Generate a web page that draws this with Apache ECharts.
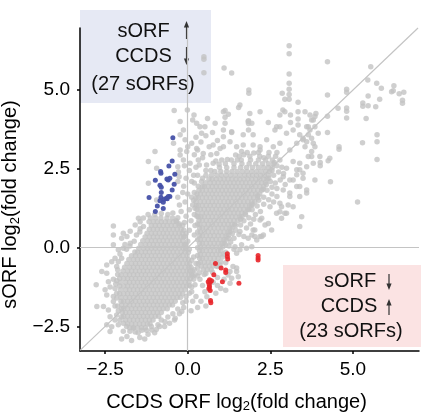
<!DOCTYPE html>
<html>
<head>
<meta charset="utf-8">
<script src="https://cdn.jsdelivr.net/npm/echarts@6/dist/echarts.min.js"></script>
<style>
  html, body { margin: 0; padding: 0; background: #fff; }
  #chart { width: 421px; height: 418px; }
</style>
</head>
<body>
<div id="chart"></div>
<script>
// axis ranges and ticks
const xRange = [-3.26, 7.0]
const yRange = [-3.28, 6.97]
const xTicks = [-2.5, 0, 2.5, 5]
const yTicks = [-2.5, 0, 2.5, 5]

// dense lower-left cloud, one row per sORF value: [y, [CCDS values]]
const lowerCoreRows = [
  [0.94, [-1.34, -1.13, -0.97, -0.81, -0.63, -0.46]],
  [0.82, [-1.17, -1.04, -0.92, -0.80, -0.68, -0.56, -0.44, -0.33]],
  [0.70, [-1.10, -0.98, -0.86, -0.74, -0.62, -0.50, -0.38, -0.26]],
  [0.58, [-1.16, -1.04, -0.92, -0.80, -0.68, -0.56, -0.44, -0.32, -0.20]],
  [0.46, [-1.23, -1.10, -0.98, -0.86, -0.74, -0.62, -0.50, -0.38, -0.26, -0.16]],
  [0.34, [-1.29, -1.16, -1.04, -0.92, -0.80, -0.68, -0.56, -0.44, -0.32, -0.20, -0.12]],
  [0.22, [-1.36, -1.22, -1.10, -0.98, -0.86, -0.74, -0.62, -0.50, -0.38, -0.26, -0.15]],
  [0.10, [-1.42, -1.28, -1.16, -1.04, -0.92, -0.80, -0.68, -0.56, -0.44, -0.32, -0.20, -0.10]],
  [-0.02, [-1.48, -1.34, -1.22, -1.10, -0.98, -0.86, -0.74, -0.62, -0.50, -0.38, -0.26, -0.14, -0.06]],
  [-0.14, [-1.60, -1.52, -1.40, -1.28, -1.16, -1.04, -0.92, -0.80, -0.68, -0.56, -0.44, -0.32, -0.20, -0.08]],
  [-0.26, [-1.70, -1.58, -1.46, -1.34, -1.22, -1.10, -0.98, -0.86, -0.74, -0.62, -0.50, -0.38, -0.26, -0.14, -0.02]],
  [-0.38, [-1.78, -1.64, -1.52, -1.40, -1.28, -1.16, -1.04, -0.92, -0.80, -0.68, -0.56, -0.44, -0.32, -0.20, -0.08, 0.02]],
  [-0.50, [-1.84, -1.70, -1.58, -1.46, -1.34, -1.22, -1.10, -0.98, -0.86, -0.74, -0.62, -0.50, -0.38, -0.26, -0.14, -0.02, 0.06]],
  [-0.62, [-1.91, -1.76, -1.64, -1.52, -1.40, -1.28, -1.16, -1.04, -0.92, -0.80, -0.68, -0.56, -0.44, -0.32, -0.20, -0.08, 0.04, 0.10]],
  [-0.74, [-1.96, -1.82, -1.70, -1.58, -1.46, -1.34, -1.22, -1.10, -0.98, -0.86, -0.74, -0.62, -0.50, -0.38, -0.26, -0.14, -0.02, 0.08, 0.14]],
  [-0.86, [-2.02, -1.88, -1.76, -1.64, -1.52, -1.40, -1.28, -1.16, -1.04, -0.92, -0.80, -0.68, -0.56, -0.44, -0.32, -0.20, -0.08, 0.04, 0.12]],
  [-0.98, [-2.06, -1.94, -1.82, -1.70, -1.58, -1.46, -1.34, -1.22, -1.10, -0.98, -0.86, -0.74, -0.62, -0.50, -0.38, -0.26, -0.14, -0.02, 0.09]],
  [-1.10, [-2.04, -1.88, -1.76, -1.64, -1.52, -1.40, -1.28, -1.16, -1.04, -0.92, -0.80, -0.68, -0.56, -0.44, -0.32, -0.20, -0.08, 0.04]],
  [-1.22, [-2.06, -1.94, -1.82, -1.70, -1.58, -1.46, -1.34, -1.22, -1.10, -0.98, -0.86, -0.74, -0.62, -0.50, -0.38, -0.26, -0.14, -0.03]],
  [-1.34, [-2.03, -1.88, -1.76, -1.64, -1.52, -1.40, -1.28, -1.16, -1.04, -0.92, -0.80, -0.68, -0.56, -0.44, -0.32, -0.20, -0.08]],
  [-1.46, [-2.06, -1.94, -1.82, -1.70, -1.58, -1.46, -1.34, -1.22, -1.10, -0.98, -0.86, -0.74, -0.62, -0.50, -0.38, -0.26, -0.15]],
  [-1.58, [-2.02, -1.88, -1.76, -1.64, -1.52, -1.40, -1.28, -1.16, -1.04, -0.92, -0.80, -0.68, -0.56, -0.44, -0.32, -0.22]],
  [-1.70, [-2.02, -1.94, -1.82, -1.70, -1.58, -1.46, -1.34, -1.22, -1.10, -0.98, -0.86, -0.74, -0.62, -0.50, -0.38]],
  [-1.82, [-2.00, -1.88, -1.76, -1.64, -1.52, -1.40, -1.28, -1.16, -1.04, -0.92, -0.80, -0.68, -0.56, -0.46]],
  [-1.94, [-2.00, -1.94, -1.82, -1.70, -1.58, -1.46, -1.34, -1.22, -1.10, -0.98, -0.86, -0.74, -0.62]],
  [-2.06, [-1.98, -1.88, -1.76, -1.64, -1.52, -1.40, -1.28, -1.16, -1.04, -0.92, -0.80]],
  [-2.18, [-1.94, -1.82, -1.70, -1.58, -1.46, -1.34, -1.22, -1.10, -0.98, -0.88]],
  [-2.30, [-1.88, -1.76, -1.64, -1.52, -1.40, -1.28, -1.16, -1.05]],
  [-2.42, [-1.82, -1.70, -1.58, -1.46, -1.34, -1.22, -1.14]],
  [-2.54, [-1.76, -1.64, -1.52, -1.40, -1.28]]
]

// dense upper-right cloud: [y, [CCDS values]]
const upperCoreRows = [
  [-0.70, [0.47, 0.59, 0.71]],
  [-0.58, [0.41, 0.53, 0.65, 0.77, 0.87]],
  [-0.46, [0.38, 0.50, 0.62, 0.74, 0.86]],
  [-0.34, [0.36, 0.44, 0.56, 0.68, 0.80, 0.92]],
  [-0.22, [0.38, 0.50, 0.62, 0.74, 0.86, 0.98]],
  [-0.10, [0.36, 0.44, 0.56, 0.68, 0.80, 0.92, 1.00]],
  [0.02, [0.38, 0.50, 0.62, 0.74, 0.86, 0.98, 1.06]],
  [0.14, [0.36, 0.44, 0.56, 0.68, 0.80, 0.92, 1.04, 1.10]],
  [0.26, [0.38, 0.50, 0.62, 0.74, 0.86, 0.98, 1.10, 1.16]],
  [0.38, [0.36, 0.44, 0.56, 0.68, 0.80, 0.92, 1.04, 1.16, 1.22]],
  [0.50, [0.38, 0.50, 0.62, 0.74, 0.86, 0.98, 1.10, 1.22, 1.28]],
  [0.62, [0.36, 0.44, 0.56, 0.68, 0.80, 0.92, 1.04, 1.16, 1.28, 1.34]],
  [0.74, [0.36, 0.50, 0.62, 0.74, 0.86, 0.98, 1.10, 1.22, 1.34, 1.42]],
  [0.86, [0.34, 0.44, 0.56, 0.68, 0.80, 0.92, 1.04, 1.16, 1.28, 1.40, 1.52]],
  [0.98, [0.32, 0.40, 0.50, 0.62, 0.74, 0.86, 0.98, 1.10, 1.22, 1.34, 1.46, 1.58, 1.64]],
  [1.10, [0.30, 0.44, 0.56, 0.68, 0.80, 0.92, 1.04, 1.16, 1.28, 1.40, 1.52, 1.64, 1.74]],
  [1.22, [0.28, 0.38, 0.50, 0.62, 0.74, 0.86, 0.98, 1.10, 1.22, 1.34, 1.46, 1.58, 1.70, 1.82]],
  [1.34, [0.26, 0.32, 0.44, 0.56, 0.68, 0.80, 0.92, 1.04, 1.16, 1.28, 1.40, 1.52, 1.64, 1.76, 1.88, 1.94]],
  [1.46, [0.25, 0.38, 0.50, 0.62, 0.74, 0.86, 0.98, 1.10, 1.22, 1.34, 1.46, 1.58, 1.70, 1.82, 1.94, 2.03]],
  [1.58, [0.25, 0.32, 0.44, 0.56, 0.68, 0.80, 0.92, 1.04, 1.16, 1.28, 1.40, 1.52, 1.64, 1.76, 1.88, 2.00, 2.12]],
  [1.70, [0.28, 0.38, 0.50, 0.62, 0.74, 0.86, 0.98, 1.10, 1.22, 1.34, 1.46, 1.58, 1.70, 1.82, 1.94, 2.06, 2.18]],
  [1.82, [0.34, 0.44, 0.56, 0.68, 0.80, 0.92, 1.04, 1.16, 1.28, 1.40, 1.52, 1.64, 1.76, 1.88, 2.00, 2.12, 2.24]],
  [1.94, [0.44, 0.50, 0.62, 0.74, 0.86, 0.98, 1.10, 1.22, 1.34, 1.46, 1.58, 1.70, 1.82, 1.94, 2.06, 2.18, 2.30]],
  [2.06, [0.54, 0.68, 0.80, 0.92, 1.04, 1.16, 1.28, 1.40, 1.52, 1.64, 1.76, 1.88, 2.00, 2.12, 2.24, 2.35]],
  [2.18, [0.64, 0.74, 0.86, 0.98, 1.10, 1.22, 1.34, 1.46, 1.58, 1.70, 1.82, 1.94, 2.06, 2.18, 2.30, 2.40]],
  [2.30, [0.72, 0.88, 1.02, 1.16, 1.30, 1.44, 1.58, 1.72, 1.84, 1.96, 2.08, 2.20, 2.32, 2.44]],
  [2.42, [0.82, 1.00, 1.18, 1.34, 1.50, 1.66, 1.80, 1.94, 2.08, 2.22, 2.36, 2.48]],
  [2.54, [0.96, 1.18, 1.40, 1.60, 1.78, 1.96, 2.14, 2.30, 2.44, 2.56]],
  [2.66, [1.14, 1.40, 1.64, 1.86, 2.06, 2.26, 2.44, 2.60]],
  [2.78, [1.32, 1.62, 1.90, 2.14, 2.36, 2.56]],
  [2.90, [1.56, 1.88, 2.18, 2.44, 2.66]],
  [3.02, [1.80, 2.14, 2.46, 2.70]]
]

// sparse points around the lower-left cloud
const lowerHalo = [
  [-2.77, -1.18], [-2.6, -0.76], [-2.45, -0.81], [-2.4, -1.08], [-2.5, -1.34], [-2.45, -1.5],
  [-2.55, -1.87], [-2.4, -1.98], [-2.25, -1.71], [-2.35, -2.19], [-2.3, -2.51], [-2.45, -2.45],
  [-2.75, -1.87], [-2.35, -2.66], [-1.84, -2.82], [-1.09, -2.61], [-0.38, -2.24], [-0.18, -2.03],
  [-2.15, -2.14], [-2.2, -0.34], [-2.1, -0.07], [-2.0, -0.34], [-2.2, -1.3], [-2.25, -1.0],
  [-2.15, -0.6], [-2.05, -0.2], [-1.9, 0.1], [-0.3, 0.95], [-0.15, 0.7], [-0.05, 0.45],
  [0.0, 0.2], [0.05, -0.05], [0.18, -0.3], [0.25, -0.5], [-0.15, -1.75], [-0.3, -1.95],
  [-0.45, -2.1], [-0.6, -2.2], [-0.85, -2.5], [-1.0, -2.7], [-1.2, -2.75], [-1.45, -2.85],
  [-1.59, -2.68], [-1.39, -2.62], [-0.69, -2.35], [-1.95, -2.65], [-2.1, -2.45], [-0.8, -2.3],
  [-2.0, -2.9], [-1.7, -2.95], [-1.3, -2.9], [-2.45, -0.55], [-2.3, -0.45], [-2.35, -1.25],
  [-2.25, -1.55], [-2.2, -1.85], [-0.05, -1.55], [0.05, -1.2], [0.15, -0.9], [-0.9, -2.45],
  [-1.75, -2.65], [-2.05, -2.3], [-1.49, 0.93], [-1.44, 0.82], [-1.34, 0.67], [-2.25, 0.69],
  [-2.25, 0.4], [-1.84, 0.35], [-2.25, 0.09], [-1.59, 0.72], [-2.0, 0.3], [-1.74, 0.14],
  [-1.95, -0.02], [-1.95, 0.46], [-1.74, 0.52], [-1.44, 0.6], [-0.94, 1.51], [-1.19, 2.04],
  [-0.94, 2.52], [-1.19, 2.73], [-0.99, 3.05],
  [-2.2, -2.3], [-2.15, -1.6], [-2.18, -1.15], [-2.12, -0.85], [-2.1, -0.45], [-1.85, -0.05],
  [-1.75, 0.05], [-1.62, 0.2], [-1.55, 0.4], [-1.45, 0.5], [-1.2, 1.05], [-1.0, 1.05],
  [-0.8, 1.08], [-0.6, 1.05], [-0.45, 1.1], [-0.35, 0.85], [-0.25, 0.75], [-0.12, 0.55],
  [-0.08, 0.35], [-0.05, 0.1], [0.02, -0.15], [0.12, -0.4], [0.2, -0.7], [0.18, -1.0],
  [0.12, -1.25], [0.05, -1.45], [-0.05, -1.7], [-0.12, -1.9], [-0.25, -2.1], [-0.4, -2.3],
  [-0.55, -2.4], [-0.7, -2.5], [-0.95, -2.6], [-1.1, -2.5], [-1.25, -2.62], [-1.5, -2.7],
  [-1.65, -2.55], [-1.85, -2.5], [-1.95, -2.4], [-2.0, -2.2], [-2.1, -2.0], [-2.12, -1.85],
  [-2.15, -1.45], [-2.15, -1.05], [-2.12, -0.7]
]

// sparse points between and around the two clouds
const middleHalo = [
  [0.12, 2.1], [0.18, 2.3], [0.05, 2.45], [0.25, 2.55], [-0.05, 2.2], [-0.12, 1.95],
  [0.0, 1.7], [0.12, 1.6], [-0.08, 1.45], [0.15, 1.35], [0.05, 1.2], [0.2, 1.05],
  [-0.05, 1.0], [0.1, 0.85], [0.22, 0.7], [0.05, 0.55], [0.2, 0.4], [-0.1, 0.8],
  [-0.2, 1.15], [-0.25, 1.35], [-0.3, 1.6], [-0.15, 1.75], [-0.1, 2.6], [0.2, 2.95],
  [0.3, 3.1], [0.0, 3.2], [0.15, 4.05], [0.6, 4.1], [0.55, 3.55], [0.75, 3.65],
  [0.9, 3.4], [0.4, 3.35], [0.25, 3.5], [0.65, 3.2], [0.45, 2.85], [0.7, 2.95],
  [0.85, 2.75], [0.35, 2.62], [0.55, 2.45], [0.3, 2.3], [0.45, 2.2], [0.2, 2.05],
  [-0.23, 3.58], [-0.43, 3.31], [-0.23, 3.1], [-0.23, 2.94], [-0.3, 2.57], [-0.28, 2.4],
  [-0.26, 2.25], [-0.3, 2.1], [-0.41, 4.35], [-0.01, 4.37], [0.19, 4.21], [-0.23, 4.0],
  [-0.13, 3.73], [-0.08, 3.42], [-0.03, 3.05], [-0.13, 2.78], [0.07, 2.68], [0.32, 2.78],
  [0.57, 2.62], [0.77, 2.68], [1.03, 2.78], [0.12, 3.31], [0.27, 3.15], [0.47, 2.99],
  [0.77, 3.26], [0.98, 3.15], [0.88, 2.99], [0.27, 3.95], [0.37, 3.84], [0.52, 3.84],
  [0.42, 3.63], [0.83, 3.95], [1.08, 3.73],
  [0.98, -0.55], [1.22, -0.87], [1.33, -0.97], [1.37, -0.6], [1.48, -0.65], [0.37, -1.0],
  [0.45, -1.2], [0.52, -1.4], [0.58, -1.56], [1.48, -0.76], [1.53, -0.92], [1.28, -0.76],
  [1.28, -1.13], [0.77, -1.1], [0.9, -1.2], [1.0, -1.3], [1.15, -1.35], [0.85, -1.45],
  [0.5, -0.85], [0.3, -0.65], [0.25, -1.55], [0.4, -1.7], [0.55, -1.85], [0.3, -1.9],
  [0.15, -1.7], [0.1, -2.0], [0.12, -1.4], [0.22, -1.18], [0.22, -0.86], [0.9, -0.95],
  [1.1, -1.0], [1.15, -0.15], [1.05, -0.3], [1.15, -0.48], [1.25, 0.05], [1.4, -0.05],
  [1.3, 0.18], [1.4, 0.3], [1.45, 0.55], [1.55, 0.42], [1.7, 0.35], [1.58, -0.07],
  [1.43, 0.03], [1.63, 0.09], [1.78, -0.02], [1.94, 0.03], [1.48, -0.18],
  [0.3, -0.9], [0.35, -0.8], [0.55, -0.82], [0.75, -0.78], [0.9, -0.6], [1.0, -0.45],
  [1.08, -0.2], [1.15, 0.1], [1.25, 0.3], [1.35, 0.45], [1.45, 0.7], [1.6, 0.9],
  [1.75, 1.05], [1.85, 1.2], [1.95, 1.38], [2.12, 1.65], [2.28, 1.85], [2.38, 2.0],
  [2.45, 2.2], [2.55, 2.45], [2.62, 2.7], [2.3, 2.85], [2.0, 3.0], [1.7, 2.95],
  [1.2, 2.8], [0.95, 2.65], [0.7, 2.45], [0.55, 2.3], [0.42, 2.1], [0.32, 1.95],
  [0.2, 1.75], [0.18, 1.5], [0.22, 1.25], [0.28, 1.0], [0.3, 0.75], [0.3, 0.5],
  [0.3, 0.25], [0.3, 0.0], [0.3, -0.25], [0.32, -0.5]
]

// sparse points above and right of the upper cloud
const upperHalo = [
  [0.49, 6.06], [0.49, 5.98], [0.49, 5.55], [3.07, 6.41], [3.07, 6.15], [4.23, 5.9],
  [1.1, 5.7], [1.33, 5.54], [3.07, 5.51], [3.07, 5.22], [3.07, 5.03], [1.85, 5.0],
  [1.85, 4.9], [2.86, 4.9], [3.07, 4.86], [3.07, 4.71], [3.34, 4.61], [2.94, 4.71],
  [4.81, 5.03], [4.81, 4.93], [5.54, 5.74], [5.45, 5.32], [5.72, 5.22], [5.86, 5.06],
  [6.24, 5.14], [6.22, 4.98], [6.17, 4.95], [6.4, 4.88], [6.54, 4.93], [6.5, 4.68],
  [6.5, 4.58], [5.46, 4.81], [5.3, 4.59], [5.3, 4.49], [5.46, 4.5], [5.69, 4.47],
  [5.81, 4.71], [5.4, 4.1], [4.81, 4.43], [4.81, 4.33], [4.81, 4.11], [4.55, 4.42],
  [4.23, 4.84], [4.23, 4.17], [4.23, 3.65], [4.58, 3.2], [4.58, 3.12], [5.29, 3.33],
  [5.73, 3.58], [5.73, 3.36], [5.73, 2.8], [5.14, 1.45], [4.32, 2.09], [3.85, 2.15],
  [4.01, 2.7], [4.01, 2.6], [4.25, 2.76], [3.85, 3.84], [3.85, 4.16], [3.7, 4.21],
  [3.55, 4.31], [3.88, 4.26], [3.8, 4.05], [3.6, 3.84], [3.7, 3.73], [3.95, 3.63],
  [3.65, 3.58], [3.49, 3.47], [3.6, 3.36], [3.8, 3.31], [3.85, 3.2], [3.55, 3.2],
  [3.75, 3.05], [4.0, 2.89], [4.3, 2.84], [3.75, 2.89], [3.65, 2.89], [3.39, 2.68],
  [3.3, 2.47], [3.49, 2.36], [3.19, 2.15], [3.39, 1.94], [3.6, 1.73], [3.09, 1.62],
  [2.89, 1.83], [3.09, 1.73], [3.3, 1.94], [3.39, 1.62], [3.6, 1.83], [2.79, 1.41],
  [3.19, 1.3], [2.99, 1.09], [3.45, 0.98], [3.39, 0.67], [3.04, 1.35], [2.79, 1.14],
  [2.49, 1.3], [2.19, 0.88], [2.34, 0.72], [2.03, 0.56], [2.19, 0.35], [1.94, 0.4],
  [2.09, 0.24], [2.84, 0.93], [2.69, 1.09], [2.24, 0.93], [1.98, 0.56], [1.78, 0.62],
  [1.58, 0.51], [1.83, 0.3], [2.29, 0.4], [2.94, 1.09], [2.84, 1.3], [2.44, 0.77],
  [2.54, 0.56], [2.24, 0.35], [2.03, 0.35], [1.95, 1.2], [2.1, 1.32], [2.05, 1.05],
  [2.2, 1.15], [2.3, 1.38], [2.15, 1.5], [2.3, 1.6], [2.45, 1.52], [2.6, 1.45],
  [2.55, 1.7], [2.7, 1.62], [2.4, 1.82], [2.55, 1.92], [2.7, 1.88], [2.5, 2.1],
  [2.65, 2.05], [2.8, 2.15], [2.95, 2.0], [2.6, 2.3], [2.75, 2.4], [2.9, 2.35],
  [2.7, 2.6], [2.85, 2.55], [1.7, 0.85], [1.85, 0.95], [1.6, 0.72], [1.9, 0.75],
  [2.0, 0.9], [1.84, 4.03], [1.84, 3.94], [1.84, 3.73], [1.54, 4.45], [2.19, 4.31],
  [2.44, 3.97], [2.69, 3.84], [2.88, 4.37], [3.11, 4.21], [3.11, 3.97], [3.34, 4.08],
  [3.34, 3.89], [1.13, 4.35], [1.13, 4.14], [1.13, 3.95], [1.33, 3.65], [1.08, 3.52],
  [1.08, 3.2], [1.68, 3.58], [1.68, 3.26], [1.98, 3.58], [2.19, 3.2], [1.45, 2.94],
  [1.5, 2.78], [1.08, 4.31], [1.23, 4.23], [1.58, 4.53], [1.88, 4.26], [2.79, 4.21],
  [2.94, 4.31], [3.34, 4.31], [3.75, 4.05], [1.33, 3.68], [1.83, 4.0], [1.94, 3.95],
  [2.64, 3.73], [2.79, 3.84], [2.99, 3.63], [3.19, 3.73], [3.39, 3.58], [3.65, 3.84],
  [1.28, 3.36], [1.48, 3.2], [1.63, 3.05], [1.98, 3.26], [2.19, 3.1], [2.39, 3.42],
  [2.59, 3.2], [2.79, 3.31], [3.09, 3.1], [3.3, 3.31], [3.49, 3.42], [3.75, 3.47],
  [2.79, 2.78], [2.99, 2.52], [3.19, 2.73], [3.39, 2.47], [3.6, 2.57], [3.8, 2.68],
  [2.89, 2.25], [3.09, 2.15], [3.3, 2.31], [3.49, 2.2]
]

// sORF up, CCDS down (27 sORFs)
const bluePoints = [
  [-0.45, 3.49], [-0.47, 2.75], [-0.57, 2.59], [-0.82, 2.42], [-0.81, 2.36], [-0.39, 2.33],
  [-0.54, 2.20], [-0.63, 2.18], [-0.59, 2.15], [-0.98, 2.14], [-0.41, 2.01], [-0.84, 1.98],
  [-0.80, 1.92], [-0.80, 1.75], [-0.47, 1.83], [-1.17, 1.59], [-0.81, 1.60], [-0.72, 1.53],
  [-0.65, 1.57], [-0.59, 1.62], [-0.54, 1.62], [-0.84, 1.49], [-0.92, 1.32], [-0.74, 1.24],
  [-0.98, 1.15], [-0.74, 1.44], [-0.62, 1.55]
]

// sORF down, CCDS up (23 sORFs)
const redPoints = [
  [1.20, -0.19], [1.20, -0.28], [1.21, -0.36], [2.13, -0.25], [2.13, -0.33], [2.13, -0.39],
  [0.84, -0.50], [1.01, -0.65], [1.15, -0.71], [1.15, -0.79], [0.79, -0.86], [1.05, -1.08],
  [1.55, -1.13], [0.66, -1.02], [0.62, -1.08], [0.68, -1.10], [0.65, -1.17], [0.66, -1.24],
  [0.64, -1.30], [0.68, -1.36], [0.69, -1.68], [0.70, -1.75], [0.72, -1.05]
]

const FONT = '"Liberation Sans", Arial, Helvetica, sans-serif'

const rowsToPoints = (rows) => rows.flatMap(([y, xs]) => xs.map((x) => [x, y]))
const grayPoints = [
  ...rowsToPoints(lowerCoreRows),
  ...rowsToPoints(upperCoreRows),
  ...lowerHalo,
  ...middleHalo,
  ...upperHalo
]

const fmtTick = (v) => (v < 0 ? '\u2212' : '') + Math.abs(v).toFixed(1)

function arrow(x, yFrom, yTo) {
  const dir = yTo < yFrom ? 1 : -1
  return [
    {
      type: 'line',
      shape: { x1: x, y1: yFrom, x2: x, y2: yTo + dir * 5 },
      style: { stroke: '#333', lineWidth: 1.2 }
    },
    {
      type: 'polygon',
      shape: { points: [[x, yTo], [x - 2.6, yTo + dir * 6.5], [x + 2.6, yTo + dir * 6.5]] },
      style: { fill: '#333' }
    }
  ]
}

function label(text, x, y) {
  return {
    type: 'text',
    x: x,
    y: y,
    style: {
      text: text,
      align: 'center',
      verticalAlign: 'middle',
      fontSize: 20,
      fontFamily: FONT,
      fill: '#111'
    }
  }
}

const axisNameStyle = {
  color: '#000',
  fontSize: 20,
  fontFamily: FONT,
  rich: {
    sub: { fontSize: 13, fontFamily: FONT, color: '#000', padding: [9, 0, 0, 0] }
  }
}

const chart = echarts.init(document.getElementById('chart'))

const option = {
  animation: false,
  grid: { left: 80, right: 2, top: 28, bottom: 67, containLabel: false, outerBoundsMode: 'none' },
  xAxis: {
    type: 'value',
    min: xRange[0],
    max: xRange[1],
    splitLine: { show: false },
    axisLine: { onZero: false, lineStyle: { color: '#000', width: 1.5 } },
    axisTick: { show: true, length: 3, customValues: xTicks, lineStyle: { color: '#000', width: 1.5 } },
    axisLabel: { customValues: xTicks, formatter: fmtTick, color: '#000', fontSize: 19, fontFamily: FONT, margin: 9 },
    name: 'CCDS ORF log{sub|2}(fold change)',
    nameLocation: 'middle',
    nameGap: 40,
    nameTextStyle: Object.assign({ padding: [0, 26, 0, 0] }, axisNameStyle)
  },
  yAxis: {
    type: 'value',
    min: yRange[0],
    max: yRange[1],
    splitLine: { show: false },
    axisLine: { onZero: false, lineStyle: { color: '#000', width: 1.5 } },
    axisTick: { show: true, length: 3, customValues: yTicks, lineStyle: { color: '#000', width: 1.5 } },
    axisLabel: { customValues: yTicks, formatter: fmtTick, color: '#000', fontSize: 19, fontFamily: FONT, margin: 10 },
    name: 'sORF log{sub|2}(fold change)',
    nameLocation: 'middle',
    nameGap: 50,
    nameTextStyle: Object.assign({ padding: [0, 30, 0, 0] }, axisNameStyle)
  },
  graphic: [
    { type: 'rect', z: 0, shape: { x: 80, y: 10, width: 131, height: 93 }, style: { fill: '#e6e9f4' } },
    { type: 'rect', z: 0, shape: { x: 283, y: 265, width: 138, height: 82 }, style: { fill: '#fbe3e3' } },
    label('sORF', 143.5, 31.5),
    label('CCDS', 143.5, 56),
    label('(27 sORFs)', 143, 84.5),
    ...arrow(186.5, 39, 21),
    ...arrow(186.5, 47, 65),
    label('sORF', 350, 281),
    label('CCDS', 349, 306.5),
    label('(23 sORFs)', 351, 331.5),
    ...arrow(389, 274, 290),
    ...arrow(389, 315, 299)
  ],
  series: [
    {
      name: 'all sORFs',
      type: 'scatter',
      data: grayPoints,
      symbolSize: 5.5,
      silent: true,
      z: 2,
      itemStyle: { color: '#c3c3c3' },
      markLine: {
        silent: true,
        symbol: 'none',
        label: { show: false },
        lineStyle: { color: '#c4c4c4', width: 1.2, type: 'solid' },
        data: [
          { yAxis: 0 },
          { xAxis: 0 },
          [{ coord: [xRange[0], xRange[0]] }, { coord: [yRange[1], yRange[1]] }]
        ]
      }
    },
    {
      name: 'sORF up CCDS down',
      type: 'scatter',
      data: bluePoints,
      symbolSize: 5,
      silent: true,
      z: 6,
      itemStyle: { color: '#4651a8', opacity: 0.95 }
    },
    {
      name: 'sORF down CCDS up',
      type: 'scatter',
      data: redPoints,
      symbolSize: 5,
      silent: true,
      z: 6,
      itemStyle: { color: '#e8262b', opacity: 0.9 }
    }
  ]
}

chart.setOption(option)
window.addEventListener('resize', () => chart.resize())
</script>
</body>
</html>
